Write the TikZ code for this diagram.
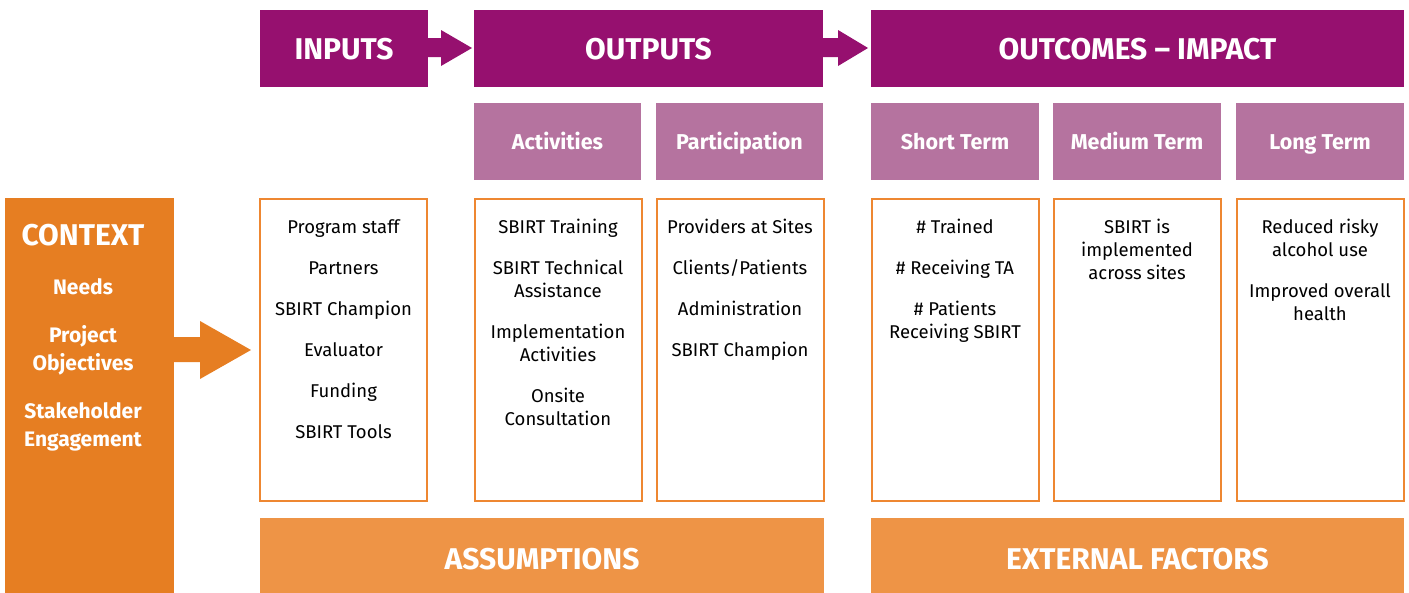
\documentclass[tikz,border=0pt]{standalone}
\usepackage{fontspec}
\setmainfont{Fira Sans}
\usetikzlibrary{calc}
\definecolor{dpurple}{HTML}{96106F}
\definecolor{lpurple}{HTML}{B5739F}
\definecolor{corange}{HTML}{E67E22}
\definecolor{lorange}{HTML}{EE9446}
\definecolor{borange}{HTML}{EE8731}
\begin{document}
\begin{tikzpicture}[x=1pt,y=-1pt,
  hdr/.style={fill=dpurple, text=white, font=\bfseries\fontsize{30}{36}\selectfont, text height=21pt, text depth=0pt, inner sep=0, outer sep=0, minimum height=77, anchor=north west},
  sub/.style={fill=lpurple, text=white, font=\bfseries\fontsize{21.5}{26}\selectfont, text height=15pt, text depth=0pt, inner sep=0, outer sep=0, minimum width=168, minimum height=77, anchor=north west},
  cbox/.style={draw=borange, line width=2pt, inner sep=0, outer sep=0, minimum width=167, minimum height=302, anchor=north west},
  ctext/.style={anchor=north, align=center, inner sep=0, font=\fontsize{18.5}{23}\selectfont},
  foot/.style={fill=lorange, text=white, font=\bfseries\fontsize{30}{36}\selectfont, text height=21pt, text depth=0pt, inner sep=0, outer sep=0, minimum height=81, anchor=north west},
  harrow/.style={fill=dpurple},
  oarrow/.style={fill=corange}
]
\useasboundingbox (0,0) rectangle (1409,592);
\begin{scope}
\clip (0,0) rectangle (1409,592);
% headers
\node[hdr, minimum width=168] (inputs) at (260,10) {INPUTS};
\node[hdr, minimum width=349] (outputs) at (474,10) {OUTPUTS};
\node[hdr, minimum width=533] (outcomes) at (871,10) {OUTCOMES – IMPACT};
% sub headers
\node[sub, minimum width=167] (act) at (474,103) {Activities};
\node[sub, minimum width=167] (part) at (656,103) {Participation};
\node[sub] (short) at (871,103) {Short Term};
\node[sub] (med) at (1053,103) {Medium Term};
\node[sub] (long) at (1236,103) {Long Term};
% content boxes
\node[cbox] (binp) at (260,199) {};
\node[cbox] (bact) at (474.5,199) {};
\node[cbox] (bpart) at (656.5,199) {};
\node[cbox, minimum width=167] (bshort) at (871.5,199) {};
\node[cbox] (bmed) at (1053.5,199) {};
\node[cbox] (blong) at (1236.5,199) {};
\node[ctext] (tinp) at ($(binp.north)+(0,20)$) {Program staff\\[18pt]Partners\\[18pt]SBIRT Champion\\[18pt]Evaluator\\[18pt]Funding\\[18pt]SBIRT Tools};
\node[ctext] (tact) at ($(bact.north)+(0,20)$) {SBIRT Training\\[18pt]SBIRT Technical\\Assistance\\[18pt]Implementation\\Activities\\[18pt]Onsite\\Consultation};
\node[ctext] (tpart) at ($(bpart.north)+(0,20)$) {Providers at Sites\\[18pt]Clients/Patients\\[18pt]Administration\\[18pt]SBIRT Champion};
\node[ctext] (tshort) at ($(bshort.north)+(0,20)$) {\# Trained\\[18pt]\# Receiving TA\\[18pt]\# Patients\\Receiving SBIRT};
\node[ctext] (tmed) at ($(bmed.north)+(0,20)$) {SBIRT is\\implemented\\across sites};
\node[ctext] (tlong) at ($(blong.north)+(0,20)$) {Reduced risky\\alcohol use\\[18pt]Improved overall\\health};
% context
\node[fill=corange, inner sep=0, outer sep=0, minimum width=169, minimum height=400, anchor=north west] (ctx) at (5,198) {};
\node[anchor=north, align=center, inner sep=0, text=white, font=\bfseries\fontsize{21}{27.5}\selectfont] (tctx) at (83,224)
  {{\fontsize{30}{36}\selectfont CONTEXT}\\[21pt]Needs\\[21pt]Project\\Objectives\\[21pt]Stakeholder\\Engagement};
% footers
\node[foot, minimum width=564] (assump) at (260,518) {ASSUMPTIONS};
\node[foot, minimum width=533] (ext) at (871,518) {EXTERNAL FACTORS};
% arrows
\fill[harrow] ($(inputs.north east)+(0,28)$) -- ++(13,0) -- ++(0,-8) -- ($(outputs.north west)+(-2,38)$) -- ($(inputs.north east)+(13,56)$) -- ++(0,-9) -- ($(inputs.north east)+(0,47)$) -- cycle;
\fill[harrow] ($(outputs.north east)+(0,28)$) -- ++(15,0) -- ++(0,-8) -- ($(outcomes.north west)+(-3,38)$) -- ($(outputs.north east)+(15,56)$) -- ++(0,-9) -- ($(outputs.north east)+(0,47)$) -- cycle;
\fill[oarrow] ($(ctx.north east)+(0,139)$) -- ++(26,0) -- ++(0,-16) -- ($(binp.north west)+(-9,151)$) -- ($(ctx.north east)+(26,181)$) -- ++(0,-17) -- ($(ctx.north east)+(0,164)$) -- cycle;
\end{scope}
\end{tikzpicture}
\end{document}
